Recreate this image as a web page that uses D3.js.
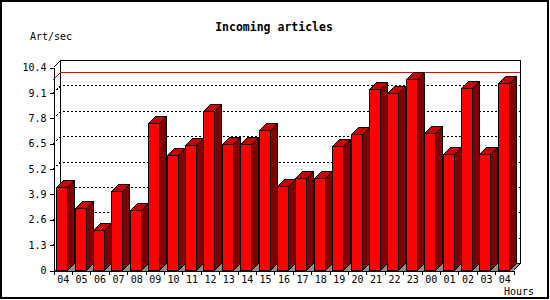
<!DOCTYPE html>
<html>
<head>
<meta charset="utf-8">
<script src="https://cdn.jsdelivr.net/npm/d3@7"></script>
<style>
  body { margin: 0; background: #fff; }
  text { font-family: "DejaVu Sans Mono", monospace; fill: #000; }
</style>
</head>
<body>
<div id="wrapper"></div>
<script>
// Hours of the day (last 24h + current)
const hours = ["04","05","06","07","08","09","10","11","12","13","14","15","16",
               "17","18","19","20","21","22","23","00","01","02","03","04"]
// Incoming articles per second
const artPerSec = [4.24, 3.16, 2.03, 4.03, 3.06, 7.52, 5.88, 6.39, 8.15, 6.44, 6.44, 7.16, 4.29,
                   4.70, 4.70, 6.34, 6.95, 9.26, 9.05, 9.77, 7.00, 5.93, 9.31, 5.93, 9.56]
const yTicks = [0, 1.3, 2.6, 3.9, 5.2, 6.5, 7.8, 9.1, 10.4]

const width = 550
const height = 300
const depth = 7

const svg = d3.select("#wrapper")
    .append("svg")
    .attr("width", width)
    .attr("height", height)
    .style("display", "block")

// Scales (front plane)
const xScale = d3.scaleLinear()
    .domain([0, hours.length])
    .range([53.5, 513.5])

const yScale = d3.scaleLinear()
    .domain([0, 10.4])
    .range([270.5, 67.5])

const x0 = xScale.range()[0], x1 = xScale.range()[1]
const yBottom = yScale(0), yTop = yScale(10.4)

const g = svg.append("g").attr("shape-rendering", "crispEdges")

// Outer frame
svg.append("rect")
    .attr("x", 1).attr("y", 1)
    .attr("width", width - 3).attr("height", height - 3)
    .attr("fill", "none")
    .attr("stroke", "#000")
    .attr("stroke-width", 2)

// Floor
g.append("polygon")
    .attr("points", [[x0, yBottom], [x0 + depth, yBottom - depth],
                     [x1 + depth, yBottom - depth], [x1, yBottom]].join(" "))
    .attr("fill", "#8c8c8c")

// Back plane left and bottom edges
g.append("path")
    .attr("d", `M${x0 + depth},${yTop - depth}V${yBottom - depth}H${x1 + depth}`)
    .attr("fill", "none")
    .attr("stroke", "#000")

// Dotted grid lines on the back wall, with the small diagonal from the front axis
yTicks.filter(v => v > 0 && v < 10.4).forEach(v => {
    const y = yScale(v)
    g.append("path")
        .attr("d", `M${x0},${y}L${x0 + depth},${y - depth}H${x1 + depth}`)
        .attr("fill", "none")
        .attr("stroke", "#000")
        .attr("stroke-dasharray", "2,2")
})

// Max value line
const yMax = yScale(d3.max(artPerSec))
g.append("path")
    .attr("d", `M${x0},${yMax}L${x0 + depth},${yMax - depth}H${x1 + depth}`)
    .attr("fill", "none")
    .attr("stroke", "#ff0000")

// 3D bars
const barW = 11
artPerSec.forEach((v, i) => {
    const bx = Math.floor(xScale(i) + 3.2) + 0.5
    const by = Math.round(yScale(v) - 0.5) + 0.5
    const bar = g.append("g")
    bar.append("polygon")
        .attr("points", [[bx + barW, by], [bx + barW + depth, by - depth],
                         [bx + barW + depth, yBottom - depth], [bx + barW, yBottom]].join(" "))
        .attr("fill", "#800000")
        .attr("stroke", "#000")
    bar.append("polygon")
        .attr("points", [[bx, by], [bx + depth, by - depth],
                         [bx + barW + depth, by - depth], [bx + barW, by]].join(" "))
        .attr("fill", "#c80000")
        .attr("stroke", "#000")
    bar.append("rect")
        .attr("x", bx).attr("y", by)
        .attr("width", barW).attr("height", yBottom - by)
        .attr("fill", "#ff0000")
        .attr("stroke", "#000")
})

// Back plane top, right edges and corner diagonals
g.append("path")
    .attr("d", `M${x0},${yTop}L${x0 + depth},${yTop - depth}H${x1 + depth}V${yBottom - depth}L${x1},${yBottom}`)
    .attr("fill", "none")
    .attr("stroke", "#000")

// Y axis
const yAxis = svg.append("g")
    .attr("transform", `translate(${x0},0)`)
    .attr("shape-rendering", "crispEdges")
    .call(d3.axisLeft(yScale)
        .tickValues(yTicks)
        .tickFormat(d => d === 0 ? "0" : d3.format(".1f")(d))
        .tickSize(4)
        .tickSizeOuter(0))
yAxis.selectAll("text")
    .attr("font-size", 10)
    .attr("font-family", "DejaVu Sans Mono")
    .attr("fill", "#000")
yAxis.select(".domain").attr("stroke", "#000")

// X axis: tick marks on band boundaries
const xAxis = svg.append("g")
    .attr("transform", `translate(0,${yBottom})`)
    .attr("shape-rendering", "crispEdges")
    .call(d3.axisBottom(xScale)
        .tickValues(d3.range(hours.length + 1))
        .tickFormat("")
        .tickSize(4)
        .tickSizeOuter(0))
xAxis.select(".domain").attr("stroke", "#000")

// X labels centred in each band
const xLabels = svg.append("g")
    .attr("transform", `translate(0,${yBottom})`)
    .call(d3.axisBottom(xScale)
        .tickValues(d3.range(hours.length).map(i => i + 0.5))
        .tickFormat(d => hours[Math.floor(d)])
        .tickSize(0)
        .tickPadding(5))
xLabels.select(".domain").remove()
xLabels.selectAll("text")
    .attr("font-size", 10)
    .attr("font-family", "DejaVu Sans Mono")
    .attr("fill", "#000")

// Title and axis titles
svg.append("text")
    .attr("x", 274).attr("y", 31)
    .attr("text-anchor", "middle")
    .attr("font-size", 11.5)
    .attr("font-weight", "bold")
    .text("Incoming articles")

svg.append("text")
    .attr("x", 30).attr("y", 40)
    .attr("font-size", 10)
    .text("Art/sec")

svg.append("text")
    .attr("x", 504).attr("y", 295)
    .attr("font-size", 10)
    .text("Hours")
</script>
</body>
</html>
